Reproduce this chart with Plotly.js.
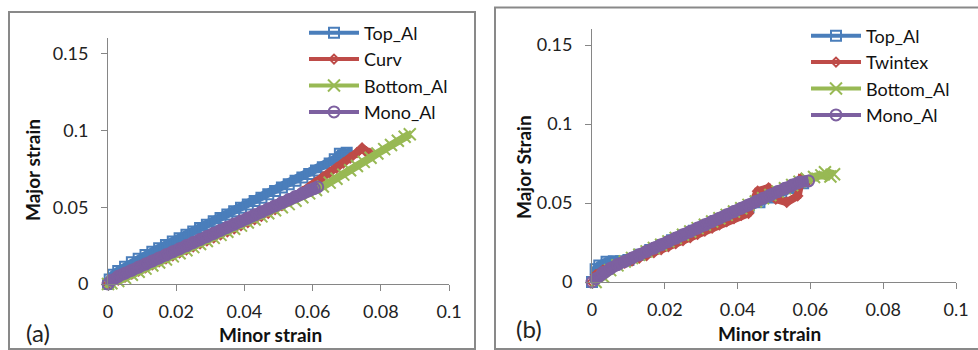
<!DOCTYPE html>
<html>
<head>
<meta charset="utf-8">
<script src="https://cdn.plot.ly/plotly-3.0.1.min.js"></script>
<style>html,body{margin:0;padding:0;background:#fff;}#chart{width:978px;height:350px;}</style>
</head>
<body>
<div id="chart"></div>
<script>
// ---------- Panel (a) ----------
const aTopX = [0,0.0005,0.0015,0.003,0.005,0.007,0.009,0.011,0.013,0.015,0.017,0.019,0.021,0.023,0.025,0.027,0.029,0.031,0.033,0.035,0.037,0.039,0.041,0.043,0.045,0.047,0.049,0.051,0.053,0.055,0.057,0.059,0.061,0.063,0.065,0.0665,0.068,0.070,0.070];
const aTopY = [0,0.003,0.006,0.0085,0.0113,0.0142,0.0165,0.0188,0.021,0.0232,0.0254,0.0277,0.0298,0.032,0.0342,0.0364,0.0386,0.0408,0.043,0.0452,0.0474,0.0496,0.0518,0.054,0.0562,0.0584,0.0606,0.0628,0.065,0.0672,0.0694,0.0716,0.0738,0.076,0.0785,0.0812,0.0848,0.0855,0.0832];

const aCurvX = [0,0.001,0.003,0.005,0.007,0.009,0.011,0.013,0.015,0.017,0.019,0.021,0.023,0.025,0.027,0.029,0.031,0.033,0.035,0.037,0.039,0.041,0.043,0.045,0.047,0.049,0.051,0.053,0.055,0.057,0.059,0.061,0.063,0.065,0.067,0.069,0.071,0.073,0.0745,0.0758,0.0768];
const aCurvY = [0,0.001,0.0025,0.0045,0.0065,0.0085,0.0105,0.0125,0.0145,0.0164,0.0183,0.0203,0.0222,0.0242,0.0262,0.0281,0.030,0.032,0.034,0.036,0.038,0.040,0.042,0.044,0.046,0.0485,0.051,0.054,0.057,0.060,0.063,0.0662,0.0695,0.0725,0.0755,0.0788,0.082,0.0855,0.0885,0.0858,0.085];

const aBotX = [0,0.001,0.003,0.005,0.007,0.009,0.011,0.013,0.015,0.017,0.019,0.021,0.023,0.025,0.027,0.029,0.031,0.033,0.035,0.037,0.039,0.041,0.043,0.045,0.047,0.049,0.051,0.053,0.055,0.057,0.059,0.061,0.063,0.065,0.067,0.069,0.071,0.073,0.075,0.077,0.079,0.081,0.083,0.085,0.087,0.0885];
const aBotY = [0,0.0005,0.002,0.004,0.006,0.008,0.010,0.012,0.014,0.016,0.018,0.020,0.022,0.024,0.026,0.028,0.030,0.032,0.034,0.036,0.038,0.040,0.042,0.044,0.046,0.048,0.050,0.052,0.0542,0.0565,0.059,0.0612,0.0635,0.066,0.0685,0.0712,0.074,0.0768,0.0795,0.0822,0.085,0.0878,0.0905,0.0932,0.0958,0.0975];

const aMonoX = [0,0.001,0.003,0.005,0.007,0.009,0.011,0.013,0.015,0.017,0.019,0.021,0.023,0.025,0.027,0.029,0.031,0.033,0.035,0.037,0.039,0.041,0.043,0.045,0.047,0.049,0.051,0.053,0.055,0.057,0.059,0.0605,0.0615];
const aMonoY = [0,0.0025,0.005,0.007,0.009,0.011,0.013,0.015,0.017,0.019,0.021,0.023,0.025,0.027,0.029,0.031,0.033,0.035,0.037,0.039,0.041,0.043,0.045,0.047,0.049,0.051,0.053,0.055,0.057,0.059,0.061,0.0622,0.0632];

// ---------- Panel (b) ----------
const bTopX = [0,-0.0005,0.001,0.002,0.004,0.006,0.008,0.010,0.013,0.016,0.019,0.022,0.025,0.028,0.031,0.034,0.037,0.040,0.043,0.046,0.049,0.052,0.055,0.058];
const bTopY = [0,0.005,0.008,0.0105,0.0128,0.0132,0.0132,0.014,0.0172,0.0203,0.0234,0.0265,0.0295,0.0325,0.0355,0.0385,0.0415,0.0445,0.0475,0.0505,0.0535,0.0565,0.0595,0.0625];

const bTwX = [0,0.001,0.003,0.005,0.007,0.009,0.011,0.013,0.015,0.017,0.019,0.021,0.023,0.025,0.027,0.029,0.031,0.033,0.035,0.037,0.039,0.041,0.043,0.0455,0.0485,0.0505,0.0535,0.0565,0.0575,0.0595];
const bTwY = [0,0.0045,0.0075,0.009,0.0105,0.012,0.0135,0.0152,0.0168,0.0186,0.0205,0.0224,0.0243,0.0262,0.0282,0.0302,0.0322,0.0342,0.0362,0.0382,0.0402,0.0422,0.0435,0.0575,0.0595,0.0525,0.0505,0.0545,0.0655,0.0642];

const bBotX = [0,0.001,0.003,0.005,0.007,0.009,0.011,0.013,0.015,0.017,0.019,0.021,0.023,0.025,0.027,0.029,0.031,0.033,0.035,0.037,0.039,0.041,0.043,0.045,0.047,0.049,0.051,0.053,0.055,0.057,0.059,0.061,0.063,0.0655,0.064,0.0665];
const bBotY = [-0.002,0.0,0.0035,0.0075,0.0105,0.013,0.0152,0.0173,0.0194,0.0215,0.0236,0.0257,0.0278,0.0299,0.032,0.0341,0.0362,0.0383,0.0404,0.0425,0.0446,0.0467,0.0488,0.0509,0.053,0.0551,0.0572,0.0593,0.0614,0.0635,0.0654,0.0665,0.0675,0.0668,0.0695,0.0682];

const bMonoX = [0,0.001,0.003,0.005,0.007,0.009,0.011,0.013,0.015,0.017,0.019,0.021,0.023,0.025,0.027,0.029,0.031,0.033,0.035,0.037,0.039,0.041,0.043,0.045,0.047,0.049,0.051,0.053,0.055,0.057,0.0595];
const bMonoY = [0,0.002,0.006,0.0085,0.011,0.013,0.0152,0.0173,0.0194,0.0215,0.0236,0.0257,0.0278,0.0299,0.032,0.0341,0.0362,0.0383,0.0404,0.0425,0.0446,0.0467,0.0488,0.0509,0.053,0.0551,0.0572,0.0593,0.0614,0.0632,0.064];

const namesA = ['Top_Al','Curv','Bottom_Al','Mono_Al'];
const namesB = ['Top_Al','Twintex','Bottom_Al','Mono_Al'];
const xTickVals = [0,0.02,0.04,0.06,0.08,0.1];
const xTickText = ['0','0.02','0.04','0.06','0.08','0.1'];
const yTickVals = [0,0.05,0.1,0.15];
const yTickText = ['0','0.05','0.1','0.15'];

const colors = ['#4A7EBB','#BE4B48','#98B954','#7D60A0'];
const symbols = ['square-open','diamond-open','x-thin-open','circle-open'];
const msizes = [10,7,12,11];
const bandWidths = [9, 8, 8, 12];

const W = 978, H = 350;
const px = v => v / W;
const py = v => 1 - v / H;

// each series: a wide band of the densely sampled path (no legend entry) + the marked line (legend entry)
function series(x, y, i, name, xa, ya, leg) {
  return [
    {type: 'scatter', mode: 'lines', x: x, y: y, name: name, showlegend: false, hoverinfo: 'skip',
      xaxis: xa, yaxis: ya, legend: leg, cliponaxis: false,
      line: {color: colors[i], width: bandWidths[i]}},
    {type: 'scatter', mode: 'lines+markers', x: x, y: y, name: name,
      xaxis: xa, yaxis: ya, legend: leg, cliponaxis: false,
      line: {color: colors[i], width: 4},
      marker: {symbol: symbols[i], size: msizes[i], color: colors[i], line: {color: colors[i], width: 2}}}
  ];
}

const data = [].concat(
  series(aTopX, aTopY, 0, namesA[0], 'x', 'y', 'legend'),
  series(aCurvX, aCurvY, 1, namesA[1], 'x', 'y', 'legend'),
  series(aBotX, aBotY, 2, namesA[2], 'x', 'y', 'legend'),
  series(aMonoX, aMonoY, 3, namesA[3], 'x', 'y', 'legend'),
  series(bTopX, bTopY, 0, namesB[0], 'x2', 'y2', 'legend2'),
  series(bTwX, bTwY, 1, namesB[1], 'x2', 'y2', 'legend2'),
  series(bBotX, bBotY, 2, namesB[2], 'x2', 'y2', 'legend2'),
  series(bMonoX, bMonoY, 3, namesB[3], 'x2', 'y2', 'legend2')
);

const tickFont = {family: 'Lato, sans-serif', size: 18, color: '#222'};
function xax(domain, anchor) {
  return {domain: domain, anchor: anchor, range: [0, 0.1], tickvals: xTickVals, ticktext: xTickText,
    showgrid: false, zeroline: false, showline: true, linecolor: '#868686', linewidth: 1,
    ticks: 'outside', ticklen: 6, tickcolor: '#868686', tickfont: tickFont, ticklabelstandoff: 5, fixedrange: true};
}
function yax(domain, anchor) {
  return {domain: domain, anchor: anchor, range: [0, 0.16], tickvals: yTickVals, ticktext: yTickText,
    showgrid: false, zeroline: false, showline: true, linecolor: '#868686', linewidth: 1,
    ticks: 'outside', ticklen: 6, tickcolor: '#868686', tickfont: tickFont, ticklabelstandoff: 9, fixedrange: true};
}

const titleFont = {family: 'Lato, sans-serif', size: 19, color: '#111', weight: 'bold'};
function ann(text, x, y, angle, font) {
  return {text: text, xref: 'paper', yref: 'paper', x: px(x), y: py(y), xanchor: 'center', yanchor: 'middle',
    showarrow: false, textangle: angle, font: font};
}
const labFont = {family: 'Lato, sans-serif', size: 24, color: '#222'};

const legFont = {family: 'Lato, sans-serif', size: 18, color: '#111'};
const layout = {
  width: W, height: H, margin: {l: 0, r: 0, t: 0, b: 0},
  paper_bgcolor: '#fff', plot_bgcolor: 'rgba(0,0,0,0)', showlegend: true,
  xaxis: xax([px(108), px(449)], 'y'),
  yaxis: yax([1 - 284 / H, 1 - 38.2 / H], 'x'),
  xaxis2: xax([px(592), px(956)], 'y2'),
  yaxis2: yax([1 - 282 / H, 1 - 29.2 / H], 'x2'),
  legend: {x: px(304), y: py(14.5), xanchor: 'left', yanchor: 'top', font: legFont, bgcolor: 'rgba(0,0,0,0)',
    itemwidth: 50, tracegroupgap: 0, traceorder: 'normal'},
  legend2: {x: px(806), y: py(17.5), xanchor: 'left', yanchor: 'top', font: legFont, bgcolor: 'rgba(0,0,0,0)',
    itemwidth: 50, tracegroupgap: 0, traceorder: 'normal'},
  shapes: [
    {type: 'rect', xref: 'paper', yref: 'paper', x0: px(9), x1: px(475), y0: py(349), y1: py(12),
      line: {color: '#898989', width: 2}, layer: 'below'},
    {type: 'rect', xref: 'paper', yref: 'paper', x0: px(495), x1: px(990), y0: py(349), y1: py(7.5),
      line: {color: '#898989', width: 2}, layer: 'below'}
  ],
  annotations: [
    ann('Major strain', 32, 170, -90, titleFont),
    ann('Minor strain', 270, 334, 0, titleFont),
    ann('Major Strain', 524, 167, -90, titleFont),
    ann('Minor strain', 769, 333, 0, titleFont),
    ann('(a)', 38, 332, 0, labFont),
    ann('(b)', 529, 328, 0, labFont)
  ]
};

Plotly.newPlot('chart', data, layout, {displayModeBar: false, staticPlot: true});
</script>
</body>
</html>
